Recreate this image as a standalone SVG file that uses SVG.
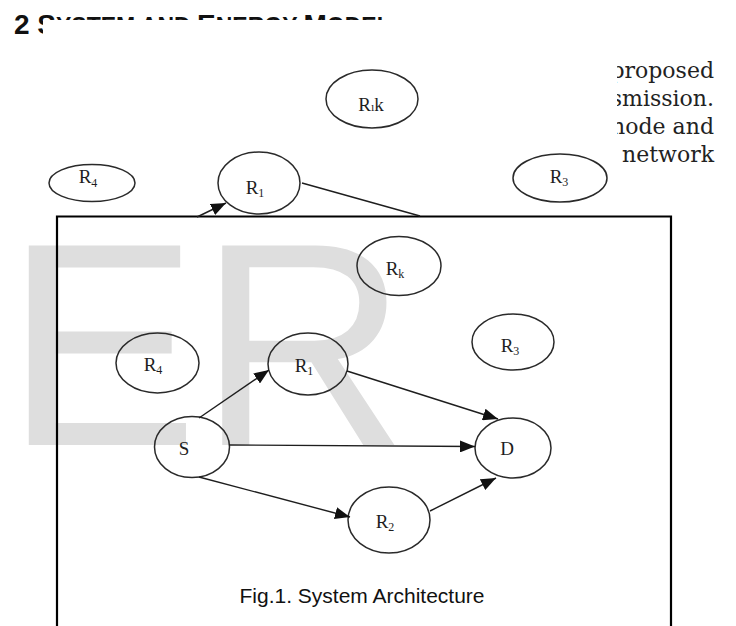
<svg xmlns="http://www.w3.org/2000/svg" width="736" height="626" viewBox="0 0 736 626">
<style>
.el{fill:none;stroke:#2a2a2a;stroke-width:1.5}
.lb{font-family:"Liberation Serif","Times New Roman",serif;font-size:19px;fill:#1e1e1e;text-anchor:middle}
.sub{font-size:12px}
.ln{fill:none;stroke:#1e1e1e;stroke-width:1.4}
.body{font-family:"DejaVu Serif",serif;font-size:22px;fill:#222;text-anchor:end}
.hd{font-family:"Liberation Sans",Arial,sans-serif;font-weight:bold;fill:#111}
</style>
<defs>
<marker id="ah" markerWidth="15" markerHeight="12" refX="15" refY="6" orient="auto" markerUnits="userSpaceOnUse">
<path d="M0,0 L15,6 L0,12 Z" fill="#111"/>
</marker>
<clipPath id="hdclip"><rect x="0" y="0" width="736" height="20"/><rect x="0" y="0" width="43" height="40"/></clipPath>
<clipPath id="bodyclip"><rect x="617" y="50" width="119" height="130"/></clipPath>
</defs>
<rect width="736" height="626" fill="#fff"/>
<!-- watermark -->
<text x="5" y="445" font-family="Liberation Sans,Arial,sans-serif" font-size="290" fill="#dedede">ER</text>
<!-- header (partly covered) -->
<g clip-path="url(#hdclip)">
<text class="hd" x="14" y="34" font-size="28">2 S<tspan font-size="23">YSTEM AND </tspan>E<tspan font-size="23">NERGY </tspan>M<tspan font-size="23">ODEL</tspan></text>
</g>
<!-- body text (partly covered) -->
<g clip-path="url(#bodyclip)">
<text class="body" x="714" y="78">proposed</text>
<text class="body" x="714" y="106">smission.</text>
<text class="body" x="714" y="134">node and</text>
<text class="body" x="714" y="162">network</text>
</g>
<!-- upper (background) diagram -->
<g id="top-R4"><ellipse class="el" cx="92" cy="183" rx="43" ry="18.5"/><text class="lb" x="88" y="183">R<tspan class="sub" dy="4">4</tspan></text></g>
<g id="top-R1"><ellipse class="el" cx="259" cy="183" rx="41" ry="31"/><text class="lb" x="255" y="194" font-size="20">R<tspan class="sub" dy="3" font-size="14">1</tspan></text></g>
<g id="top-R1k"><ellipse class="el" cx="372" cy="99" rx="46" ry="29"/><text class="lb" x="371" y="111">R<tspan class="sub" dy="0" font-size="11">ı</tspan>k</text></g>
<g id="top-R3"><ellipse class="el" cx="560" cy="178" rx="47" ry="24"/><text class="lb" x="559" y="183">R<tspan class="sub" dy="3">3</tspan></text></g>
<!-- frame -->
<path d="M57,630 V216.5 H671 V630" fill="none" stroke="#000" stroke-width="2.2"/>
<!-- inner diagram nodes -->
<g id="Rk"><ellipse class="el" cx="399" cy="266" rx="42" ry="29.5"/><text class="lb" x="395" y="275">R<tspan class="sub" dy="3">k</tspan></text></g>
<g id="R3"><ellipse class="el" cx="513" cy="342" rx="41" ry="28"/><text class="lb" x="510" y="352">R<tspan class="sub" dy="3">3</tspan></text></g>
<g id="R4"><ellipse class="el" cx="157.5" cy="363" rx="41.5" ry="30"/><text class="lb" x="153" y="371">R<tspan class="sub" dy="3">4</tspan></text></g>
<g id="R1"><ellipse class="el" cx="308" cy="364" rx="40" ry="31"/><text class="lb" x="304" y="372">R<tspan class="sub" dy="3">1</tspan></text></g>
<g id="S"><ellipse class="el" cx="192" cy="447" rx="37.5" ry="30.5"/><text class="lb" x="184" y="455">S</text></g>
<g id="D"><ellipse class="el" cx="513" cy="448" rx="38" ry="30"/><text class="lb" x="507" y="455">D</text></g>
<g id="R2"><ellipse class="el" cx="389" cy="520" rx="41" ry="33"/><text class="lb" x="385" y="528">R<tspan class="sub" dy="3">2</tspan></text></g>
<!-- connectors -->
<g id="connectors">
<line class="ln" x1="302" y1="183" x2="420" y2="216"/>
<line class="ln" x1="197" y1="217" x2="226" y2="203" marker-end="url(#ah)"/>
<line class="ln" x1="199" y1="418" x2="269" y2="370" marker-end="url(#ah)"/>
<line class="ln" x1="347" y1="371" x2="498" y2="419" marker-end="url(#ah)"/>
<line class="ln" x1="229" y1="445" x2="475" y2="446.5" marker-end="url(#ah)"/>
<line class="ln" x1="199" y1="477" x2="350" y2="517" marker-end="url(#ah)"/>
<line class="ln" x1="430" y1="511" x2="496" y2="478" marker-end="url(#ah)"/>
</g>
<text x="362" y="603" font-family="Liberation Sans,Arial,sans-serif" font-size="21" fill="#111" text-anchor="middle">Fig.1. System Architecture</text>
</svg>
